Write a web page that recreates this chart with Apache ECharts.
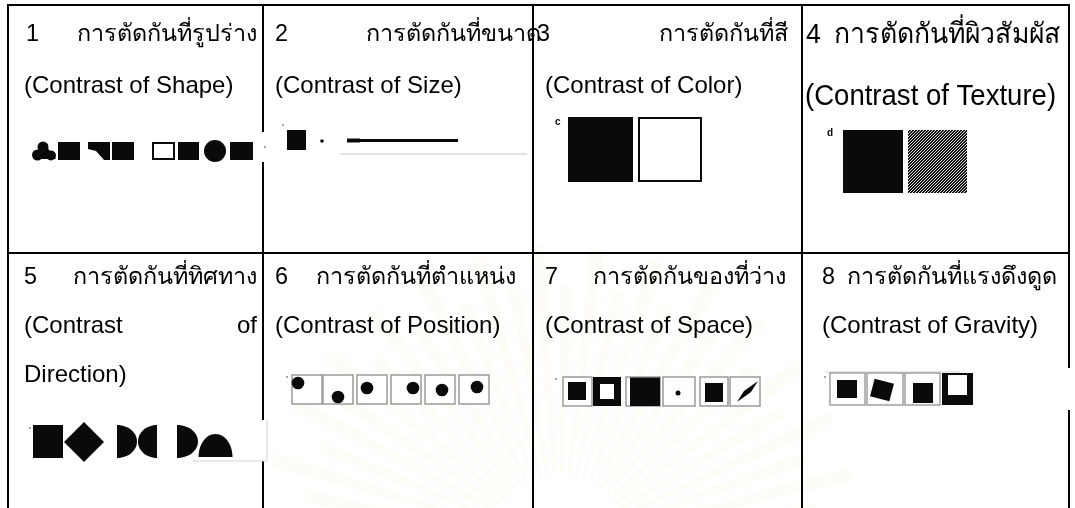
<!DOCTYPE html>
<html>
<head>
<meta charset="utf-8">
<script src="https://cdn.jsdelivr.net/npm/echarts@6/dist/echarts.min.js"></script>
<style>
html,body{margin:0;padding:0;background:#fff;}
#chart{width:1075px;height:508px;}
</style>
</head>
<body>
<div id="chart"></div>
<script>
// ---------------- DATA ----------------
const cellIds = ['1', '2', '3', '4', '5', '6', '7', '8'];
const thaiTitles = [
  'การตัดกันที่รูปร่าง', 'การตัดกันที่ขนาด', 'การตัดกันที่สี', 'การตัดกันที่ผิวสัมผัส',
  'การตัดกันที่ทิศทาง', 'การตัดกันที่ตำแหน่ง', 'การตัดกันของที่ว่าง', 'การตัดกันที่แรงดึงดูด'
];
const englishTitles = [
  '(Contrast of Shape)', '(Contrast of Size)', '(Contrast of Color)', '(Contrast of Texture)',
  '(Contrast of Direction)', '(Contrast of Position)', '(Contrast of Space)', '(Contrast of Gravity)'
];
const figureKinds = ['shape', 'size', 'color', 'texture', 'direction', 'position', 'space', 'gravity'];
const cellColumn = [0, 1, 2, 3, 0, 1, 2, 3];
const cellRow = [0, 0, 0, 0, 1, 1, 1, 1];

// ---------------- LAYOUT (not data) ----------------
const columnWidths = [255, 270, 269, 267];
const columnStarts = columnWidths.map((w, k) => columnWidths.slice(0, k).reduce((a, b) => a + b, 0));
const tableWidth = columnWidths.reduce((a, b) => a + b, 0);
const numDx = [18, 12, 4, 4, 16, 12, 12, 20];
const thaiRightDx = [249, 278, 255, 258, 249, 253, 253, 255];
const engDx = [16, 12, 12, 3, 16, 12, 12, 20];
const engSizes = [24, 24, 24, 29, 24, 24, 24, 24];
const thaiSizes = [23.4, 23.4, 23.4, 28, 23.4, 23.4, 23.4, 23.4];
const hScale = [1, 1, 1, 0.95, 1, 1, 1, 1];
const lineDy = [[30, 81, 130], [25, 73, 122]];
const cell4EngDy = 92;
const justifyWidth = [null, null, null, null, 233, null, null, null];
const FONT = '"Liberation Sans", Arial, sans-serif';

const measureCtx = document.createElement('canvas').getContext('2d');
function textWidth(t, fs) { measureCtx.font = fs + 'px ' + FONT; return measureCtx.measureText(t).width; }

// stipple texture
const stipple = document.createElement('canvas');
stipple.width = 3; stipple.height = 3;
(function () {
  const g = stipple.getContext('2d');
  g.fillStyle = '#121212'; g.fillRect(0, 0, 3, 3);
  g.fillStyle = '#d8d8d8'; g.fillRect(0, 0, 1, 1); g.fillRect(2, 1, 1, 1); g.fillRect(1, 2, 1, 1);
})();

const BLACK = '#0a0a0a';
function rect(x, y, w, h, fill, extra) { return Object.assign({ type: 'rect', z2: 20, shape: { x: x, y: y, width: w, height: h }, style: { fill: fill || BLACK } }, extra || {}); }
function orect(x, y, w, h, stroke, lw) { return { type: 'rect', z2: 20, shape: { x: x, y: y, width: w, height: h }, style: { fill: '#fff', stroke: stroke, lineWidth: lw } }; }
function dot(cx, cy, r, fill) { return { type: 'circle', z2: 22, shape: { cx: cx, cy: cy, r: r }, style: { fill: fill || BLACK } }; }
function poly(pts, fill) { return { type: 'polygon', z2: 21, shape: { points: pts }, style: { fill: fill || BLACK } }; }
function arcPts(cx, cy, rx, ry, a0, a1) { const p = []; for (let k = 0; k <= 28; k++) { const a = a0 + (a1 - a0) * k / 28; p.push([cx + rx * Math.cos(a), cy + ry * Math.sin(a)]); } return p; }
function label(t, x, y, size) { return { type: 'text', z2: 23, style: { text: t, x: x, y: y, font: 'bold ' + size + 'px ' + FONT, fill: BLACK, verticalAlign: 'middle' } }; }
function txt(t, x, y, size, align, sx) {
  return { type: 'text', z2: 30, x: x, y: y, scaleX: sx || 1, style: { text: t, x: 0, y: 0, font: size + 'px ' + FONT, fill: '#000', align: align, verticalAlign: 'middle' } };
}

function figure(kind, L, T) {
  const X = v => L + v, Y = v => T + v;
  const e = [];
  switch (kind) {
    case 'shape':
      e.push(rect(X(20), Y(127), 242, 30, '#fff', { z2: 15 }));
      e.push(poly([[X(35), Y(137)], [X(25), Y(154)], [X(48), Y(154)]]));
      e.push(dot(X(35), Y(142), 5.5), dot(X(29.5), Y(150), 5.5), dot(X(43), Y(150.5), 5));
      e.push(rect(X(50), Y(137), 22, 18));
      e.push(poly([[X(80), Y(137)], [X(102), Y(137)], [X(102), Y(155)], [X(96), Y(155)], [X(88), Y(146)], [X(80), Y(144)]]));
      e.push(rect(X(104), Y(137), 22, 18));
      e.push(orect(X(145), Y(138), 21, 16, BLACK, 2));
      e.push(rect(X(170), Y(137), 21, 18));
      e.push(dot(X(207), Y(146), 11));
      e.push(rect(X(222), Y(137), 23, 18));
      e.push(dot(X(257), Y(142), 1, '#888'));
      break;
    case 'size':
      e.push(dot(X(20), Y(120), 1, '#888'));
      e.push(rect(X(24), Y(125), 19, 20));
      e.push(dot(X(59), Y(136), 1.8));
      e.push(rect(X(84), Y(133.5), 13, 4));
      e.push(rect(X(97), Y(134), 98, 3));
      e.push(rect(X(77), Y(148.5), 187, 1, '#c8c8c8'));
      break;
    case 'color':
      e.push(label('c', X(22), Y(117), 10));
      e.push(rect(X(35), Y(112), 65, 65));
      e.push(orect(X(106), Y(113), 62, 63, BLACK, 2));
      break;
    case 'texture':
      e.push(label('d', X(25), Y(128), 10));
      e.push(rect(X(41), Y(125), 60, 63));
      e.push(rect(X(106), Y(125), 59, 63, { image: stipple, repeat: 'repeat' }));
      break;
    case 'direction':
      e.push(rect(X(17), Y(167), 242, 41, '#fff', { z2: 15 }));
      e.push(rect(X(185), Y(207.5), 74, 1, '#d4d4d4', { z2: 16 }));
      e.push(rect(X(258.5), Y(167), 1, 41, '#d4d4d4', { z2: 16 }));
      e.push(dot(X(22), Y(175), 1, '#888'));
      e.push(rect(X(25), Y(172), 30, 33));
      e.push(poly([[X(76), Y(169)], [X(96), Y(189)], [X(76), Y(209)], [X(56), Y(189)]]));
      e.push(poly(arcPts(X(109), Y(188.5), 20, 16.5, -Math.PI / 2, Math.PI / 2)));
      e.push(poly(arcPts(X(149), Y(188.5), 19, 16.5, Math.PI / 2, 3 * Math.PI / 2)));
      e.push(poly(arcPts(X(169), Y(188.5), 21, 16.5, -Math.PI / 2, Math.PI / 2)));
      e.push(poly(arcPts(X(207.5), Y(204), 17, 23, Math.PI, 2 * Math.PI)));
      break;
    case 'position': {
      e.push(dot(X(24), Y(124), 1, '#888'));
      const sx = [29, 60, 94, 128, 162, 196];
      const dots = [[35, 130], [75, 144], [104, 135], [150, 135], [179, 137], [214, 134]];
      sx.forEach(s => e.push(orect(X(s), Y(122), 30, 29, '#9a9a9a', 1.5)));
      dots.forEach(d => e.push(dot(X(d[0]), Y(d[1]), 6.3)));
      break;
    }
    case 'space':
      e.push(dot(X(23), Y(126), 1, '#888'));
      e.push(orect(X(30), Y(124), 29, 29, '#9a9a9a', 1.5));
      e.push(rect(X(35), Y(129), 18, 18));
      e.push(rect(X(60), Y(124), 28, 29));
      e.push(rect(X(67), Y(131), 14, 15, '#fff', { z2: 22 }));
      e.push(orect(X(93), Y(124), 34, 29, '#9a9a9a', 1.5));
      e.push(rect(X(97), Y(124.5), 30, 28.5));
      e.push(orect(X(130), Y(124), 32, 29, '#9a9a9a', 1.5));
      e.push(dot(X(145), Y(140), 2.5));
      e.push(orect(X(167), Y(124), 28, 29, '#9a9a9a', 1.5));
      e.push(rect(X(172), Y(130), 18, 19));
      e.push(orect(X(197), Y(124), 30, 29, '#9a9a9a', 1.5));
      e.push(poly([[X(204), Y(149)], [X(211), Y(138)], [X(225), Y(128)], [X(218), Y(139)]]));
      break;
    case 'gravity':
      e.push(rect(X(255), Y(115), 20, 42, '#fff', { z2: 15 }));
      e.push(dot(X(23), Y(124), 1, '#888'));
      e.push(rect(X(23), Y(118.5), 135, 1, '#cfcfcf'));
      e.push(orect(X(28), Y(120), 35, 32, '#a0a0a0', 1.5));
      e.push(rect(X(35), Y(127), 20, 18));
      e.push(orect(X(65), Y(120), 36, 32, '#a0a0a0', 1.5));
      e.push({ type: 'rect', z2: 22, x: X(80), y: Y(137), rotation: -0.26, shape: { x: -10, y: -9, width: 20, height: 18 }, style: { fill: BLACK } });
      e.push(orect(X(103), Y(120), 35, 32, '#a0a0a0', 1.5));
      e.push(rect(X(111), Y(130), 20, 20));
      e.push(rect(X(140), Y(120), 31, 32));
      e.push(rect(X(146), Y(122), 19, 20, '#fff', { z2: 22 }));
      break;
  }
  return e;
}

function renderCell(params, api) {
  const i = api.value(2);
  const col = cellColumn[i], row = cellRow[i];
  const p0 = api.coord([columnStarts[col], row]);
  const p1 = api.coord([columnStarts[col] + columnWidths[col], row + 1]);
  const L = p0[0], T = p0[1], R = p1[0], B = p1[1];
  const bottom = row === 1 ? T + 600 : B; // last row runs past the visible area
  const lineStyle = { stroke: '#000', lineWidth: 2 };
  const children = [];
  children.push({ type: 'line', z2: 10, shape: { x1: L - 1, y1: T, x2: R + 1, y2: T }, style: lineStyle });
  children.push({ type: 'line', z2: 10, shape: { x1: L, y1: T - 1, x2: L, y2: bottom }, style: lineStyle });
  if (col === 3) children.push({ type: 'line', z2: 10, shape: { x1: R, y1: T - 1, x2: R, y2: bottom }, style: lineStyle });

  const es = engSizes[i], ts = thaiSizes[i], sx = hScale[i];
  const ly = lineDy[row];
  children.push(txt(cellIds[i], L + numDx[i], T + ly[0], ts, 'left', sx));
  children.push(txt(thaiTitles[i], L + thaiRightDx[i], T + ly[0], ts, 'right', sx));

  const ex = L + engDx[i];
  const ey = T + (i === 3 ? cell4EngDy : ly[1]);
  const eng = englishTitles[i];
  const jw = justifyWidth[i];
  if (jw && textWidth(eng, es) > jw) {
    // wrap greedily, justify every line but the last
    const words = eng.split(' ');
    const lines = []; let cur = [];
    words.forEach(w => {
      const trial = cur.concat([w]).join(' ');
      if (cur.length && textWidth(trial, es) > jw) { lines.push(cur); cur = [w]; } else cur.push(w);
    });
    lines.push(cur);
    lines.forEach((ws, li) => {
      const y = T + ly[1 + li];
      if (li < lines.length - 1 && ws.length > 1) {
        const total = ws.reduce((a, w) => a + textWidth(w, es), 0);
        const gap = (jw - total) / (ws.length - 1);
        let x = ex;
        ws.forEach(w => { children.push(txt(w, x, y, es, 'left', 1)); x += textWidth(w, es) + gap; });
      } else {
        children.push(txt(ws.join(' '), ex, y, es, 'left', 1));
      }
    });
  } else {
    children.push(txt(eng, ex, ey, es, 'left', sx));
  }
  figure(figureKinds[i], L, T).forEach(c => children.push(c));
  return { type: 'group', children: children };
}

// faint watermark rays behind the table (decoration of the scanned page)
const rays = [];
for (let k = 0; k < 30; k++) {
  const a = Math.PI * (1.02 + k * 0.032);
  rays.push({
    type: 'sector', silent: true, z: -10,
    shape: { cx: 560, cy: 545, r0: 70, r: 300 - (k % 2) * 40, startAngle: a, endAngle: a + 0.05 },
    style: { fill: 'rgba(240, 200, 90, 0.05)' }
  });
}

const chart = echarts.init(document.getElementById('chart'), null, { renderer: 'canvas' });
chart.setOption({
  backgroundColor: '#fff',
  animation: false,
  graphic: { elements: rays },
  grid: { left: 8, right: 6, top: 5, bottom: 7 },
  xAxis: { type: 'value', min: 0, max: tableWidth, show: false },
  yAxis: { type: 'value', min: 0, max: 2, inverse: true, show: false },
  series: [{
    type: 'custom',
    clip: false,
    silent: true,
    renderItem: renderCell,
    encode: { x: 0, y: 1 },
    data: cellIds.map((id, i) => [columnStarts[cellColumn[i]], cellRow[i], i])
  }]
});
</script>
</body>
</html>
